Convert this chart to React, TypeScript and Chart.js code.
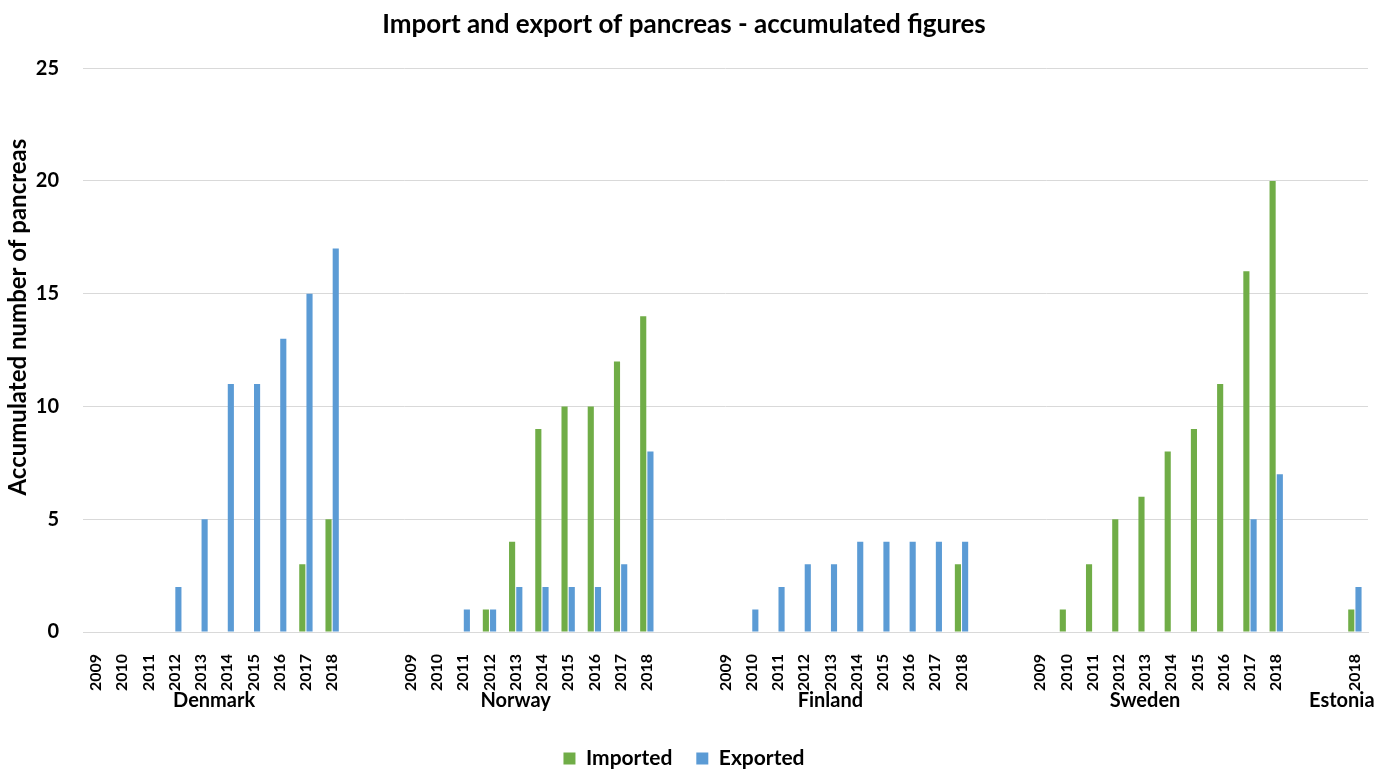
import { useEffect, useRef } from 'react';
import { Chart, registerables } from 'chart.js';

Chart.register(...registerables);

const FONT = 'Lato, "Open Sans", sans-serif';

const chartTitle = 'Import and export of pancreas - accumulated figures';
const yAxisTitle = 'Accumulated number of pancreas';

const countries = ['Denmark', 'Norway', 'Finland', 'Sweden', 'Estonia'];
const fullYears = ['2009', '2010', '2011', '2012', '2013', '2014', '2015', '2016', '2017', '2018'];
const estoniaYears = ['2018'];

const denmarkImported = [0, 0, 0, 0, 0, 0, 0, 0, 3, 5];
const denmarkExported = [0, 0, 0, 2, 5, 11, 11, 13, 15, 17];
const norwayImported = [0, 0, 0, 1, 4, 9, 10, 10, 12, 14];
const norwayExported = [0, 0, 1, 1, 2, 2, 2, 2, 3, 8];
const finlandImported = [0, 0, 0, 0, 0, 0, 0, 0, 0, 3];
const finlandExported = [0, 1, 2, 3, 3, 4, 4, 4, 4, 4];
const swedenImported = [0, 1, 3, 5, 6, 8, 9, 11, 16, 20];
const swedenExported = [0, 0, 0, 0, 0, 0, 0, 0, 5, 7];
const estoniaImported = [1];
const estoniaExported = [2];

const yTicks = [0, 5, 10, 15, 20, 25];

const groups = [
  { name: countries[0], years: fullYears, imported: denmarkImported, exported: denmarkExported },
  { name: countries[1], years: fullYears, imported: norwayImported, exported: norwayExported },
  { name: countries[2], years: fullYears, imported: finlandImported, exported: finlandExported },
  { name: countries[3], years: fullYears, imported: swedenImported, exported: swedenExported },
  { name: countries[4], years: estoniaYears, imported: estoniaImported, exported: estoniaExported },
];

// Build the flat category axis with two blank slots between countries
const labels: string[] = [];
const importedData: (number | null)[] = [];
const exportedData: (number | null)[] = [];
const groupSpans: { name: string; from: number; to: number }[] = [];
groups.forEach((g, k) => {
  if (k > 0) {
    for (let i = 0; i < 2; i++) {
      labels.push('');
      importedData.push(null);
      exportedData.push(null);
    }
  }
  const first = labels.length;
  g.years.forEach((y, i) => {
    labels.push(y);
    importedData.push(g.imported[i] === 0 ? null : g.imported[i]);
    exportedData.push(g.exported[i] === 0 ? null : g.exported[i]);
  });
  groupSpans.push({ name: g.name, from: k > 0 ? first - 1 : first, to: labels.length - 1 });
});

const groupLabelPlugin = {
  id: 'groupLabels',
  afterDraw(chart: any) {
    const { ctx, chartArea } = chart;
    const xs = chart.scales.x;
    ctx.save();
    ctx.fillStyle = '#000';
    ctx.font = `bold 20px ${FONT}`;
    ctx.textAlign = 'center';
    ctx.textBaseline = 'middle';
    groupSpans.forEach((s) => {
      const x = (xs.getPixelForValue(s.from) + xs.getPixelForValue(s.to)) / 2;
      ctx.fillText(s.name, x, 701);
    });
    // y axis title
    ctx.translate(18, (chartArea.top + chartArea.bottom) / 2 - 33);
    ctx.rotate(-Math.PI / 2);
    ctx.font = `bold 24px ${FONT}`;
    ctx.fillText(yAxisTitle, 0, 0);
    ctx.restore();
  },
};

export default function App() {
  const ref = useRef<HTMLCanvasElement>(null);
  useEffect(() => {
    document.body.style.margin = '0';
    const chart = new Chart(ref.current as HTMLCanvasElement, {
      type: 'bar',
      data: {
        labels,
        datasets: [
          {
            label: 'Imported',
            data: importedData,
            backgroundColor: '#70AD47',
            categoryPercentage: 0.55,
            barPercentage: 0.85,
          },
          {
            label: 'Exported',
            data: exportedData,
            backgroundColor: '#5B9BD5',
            categoryPercentage: 0.55,
            barPercentage: 0.85,
          },
        ],
      },
      options: {
        responsive: false,
        animation: false,
        layout: { padding: { left: 0, right: 27, top: 0, bottom: -8 } },
        plugins: {
          title: {
            display: true,
            text: chartTitle,
            color: '#000',
            font: { family: FONT, size: 26, weight: 'bold' },
            padding: { top: 9, bottom: 28 },
          },
          legend: {
            position: 'bottom',
            labels: {
              boxWidth: 12,
              boxHeight: 12,
              padding: 24,
              color: '#000',
              font: { family: FONT, size: 21, weight: 'bold' },
            },
          },
          tooltip: { enabled: false },
        },
        scales: {
          x: {
            grid: { display: false },
            border: { display: true, color: '#d9d9d9', width: 1 },
            ticks: {
              autoSkip: false,
              minRotation: 90,
              maxRotation: 90,
              padding: 14,
              color: '#000',
              font: { family: FONT, size: 16, weight: 'bold' },
            },
            afterFit: (s: any) => {
              s.height = 92;
            },
          },
          y: {
            min: 0,
            max: 25,
            afterBuildTicks: (s: any) => {
              s.ticks = yTicks.map((v) => ({ value: v }));
            },
            ticks: {
              padding: 24,
              color: '#000',
              font: { family: FONT, size: 20, weight: 'bold' },
            },
            grid: { color: '#d9d9d9', drawTicks: false },
            border: { display: false },
            afterFit: (s: any) => {
              s.width = 83;
            },
          },
        },
      },
      plugins: [groupLabelPlugin],
    });
    return () => chart.destroy();
  }, []);
  return <canvas ref={ref} width={1395} height={771} style={{ display: 'block' }} />;
}
